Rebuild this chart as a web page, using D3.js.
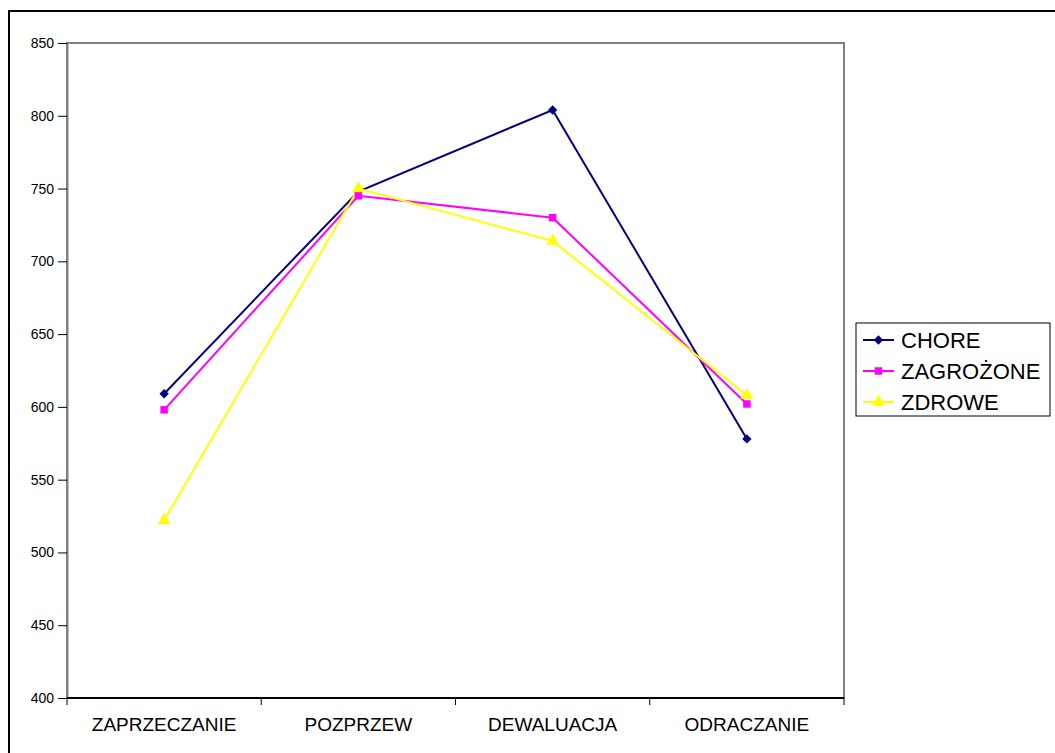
<!DOCTYPE html>
<html>
<head>
<meta charset="utf-8">
<script src="https://cdn.jsdelivr.net/npm/d3@7"></script>
<style>
  html, body { margin: 0; padding: 0; background: #fff; }
  svg { display: block; }
  text { font-family: "Liberation Sans", Arial, sans-serif; fill: #000; }
</style>
</head>
<body>
<svg id="chart" width="1055" height="753"></svg>
<script>
// Categories and series values
const categories = ["ZAPRZECZANIE", "POZPRZEW", "DEWALUACJA", "ODRACZANIE"];
const chore      = [609, 748, 804, 578];
const zagrozone  = [598, 745, 730, 602];
const zdrowe     = [522, 750, 714, 608];
const yTicks     = [400, 450, 500, 550, 600, 650, 700, 750, 800, 850];

const series = [
  { name: "CHORE",     values: chore,     color: "#000080", marker: "diamond" },
  { name: "ZAGROŻONE", values: zagrozone, color: "#FF00FF", marker: "square" },
  { name: "ZDROWE",    values: zdrowe,    color: "#FFFF00", marker: "triangle" }
];

const svg = d3.select("#chart");

// Outer chart frame
svg.append("rect")
  .attr("x", 9).attr("y", 11)
  .attr("width", 1100).attr("height", 800)
  .attr("fill", "#fff").attr("stroke", "#000").attr("stroke-width", 2);

const plot = { left: 67, right: 844, top: 43, bottom: 698 };

const x = d3.scaleBand().domain(categories).range([plot.left, plot.right]);
const y = d3.scaleLinear().domain([400, 850]).range([plot.bottom, plot.top]);

// Plot area border (gray)
svg.append("rect")
  .attr("x", plot.left).attr("y", plot.top)
  .attr("width", plot.right - plot.left).attr("height", plot.bottom - plot.top)
  .attr("fill", "none").attr("stroke", "#808080").attr("stroke-width", 2);

// Y axis
const yAxis = svg.append("g")
  .attr("transform", `translate(${plot.left},0)`)
  .call(d3.axisLeft(y).tickValues(yTicks).tickSize(9).tickSizeOuter(0).tickPadding(4));
yAxis.select(".domain").attr("stroke", "#808080").attr("stroke-width", 2);
yAxis.selectAll(".tick line").attr("stroke", "#000").attr("stroke-width", 1);
yAxis.selectAll(".tick text")
  .style("font-family", '"Liberation Sans", Arial, sans-serif')
  .style("font-size", "14px").attr("fill", "#000");

// X axis: ticks at category boundaries, labels centred in bands
const xAxisG = svg.append("g").attr("transform", `translate(0,${plot.bottom})`);
xAxisG.append("line")
  .attr("x1", plot.left).attr("x2", plot.right)
  .attr("y1", 0).attr("y2", 0)
  .attr("stroke", "#000").attr("stroke-width", 2);
const boundaries = categories.map(c => x(c)).concat([plot.right]);
xAxisG.selectAll("line.tick")
  .data(boundaries).enter().append("line")
  .attr("class", "tick")
  .attr("x1", d => d).attr("x2", d => d)
  .attr("y1", 0).attr("y2", 7)
  .attr("stroke", "#000").attr("stroke-width", 1);
xAxisG.selectAll("text")
  .data(categories).enter().append("text")
  .attr("x", d => x(d) + x.bandwidth() / 2)
  .attr("y", 33)
  .attr("text-anchor", "middle")
  .style("font-size", "19px")
  .text(d => d);

// Marker shapes (diamond = square turned 45 degrees)
const markerPath = {
  diamond:  d3.symbol().type(d3.symbolSquare).size(44)(),
  square:   d3.symbol().type(d3.symbolSquare).size(56)(),
  triangle: d3.symbol().type(d3.symbolTriangle).size(70)()
};
const markerRotate = { diamond: 45, square: 0, triangle: 0 };

const line = d3.line()
  .x((d, i) => x(categories[i]) + x.bandwidth() / 2)
  .y(d => y(d));

// Lines, then markers
series.forEach(s => {
  svg.append("path")
    .datum(s.values)
    .attr("d", line)
    .attr("fill", "none")
    .attr("stroke", s.color)
    .attr("stroke-width", 2);
});
series.forEach(s => {
  svg.selectAll(null)
    .data(s.values).enter().append("path")
    .attr("d", markerPath[s.marker])
    .attr("transform", (d, i) =>
      `translate(${x(categories[i]) + x.bandwidth() / 2},${y(d)}) rotate(${markerRotate[s.marker]})`)
    .attr("fill", s.color);
});

// Legend
const legend = svg.append("g").attr("transform", "translate(856,323)");
legend.append("rect")
  .attr("x", 0).attr("y", 0).attr("width", 194).attr("height", 93)
  .attr("fill", "#fff").attr("stroke", "#000").attr("stroke-width", 1);
series.forEach((s, i) => {
  const cy = 17 + i * 31;
  legend.append("line")
    .attr("x1", 7).attr("x2", 38).attr("y1", cy).attr("y2", cy)
    .attr("stroke", s.color).attr("stroke-width", 2);
  legend.append("path")
    .attr("d", markerPath[s.marker])
    .attr("transform", `translate(22.5,${cy}) rotate(${markerRotate[s.marker]})`)
    .attr("fill", s.color);
  legend.append("text")
    .attr("x", 45).attr("y", cy + 8)
    .style("font-size", "22px")
    .text(s.name);
});
</script>
</body>
</html>
